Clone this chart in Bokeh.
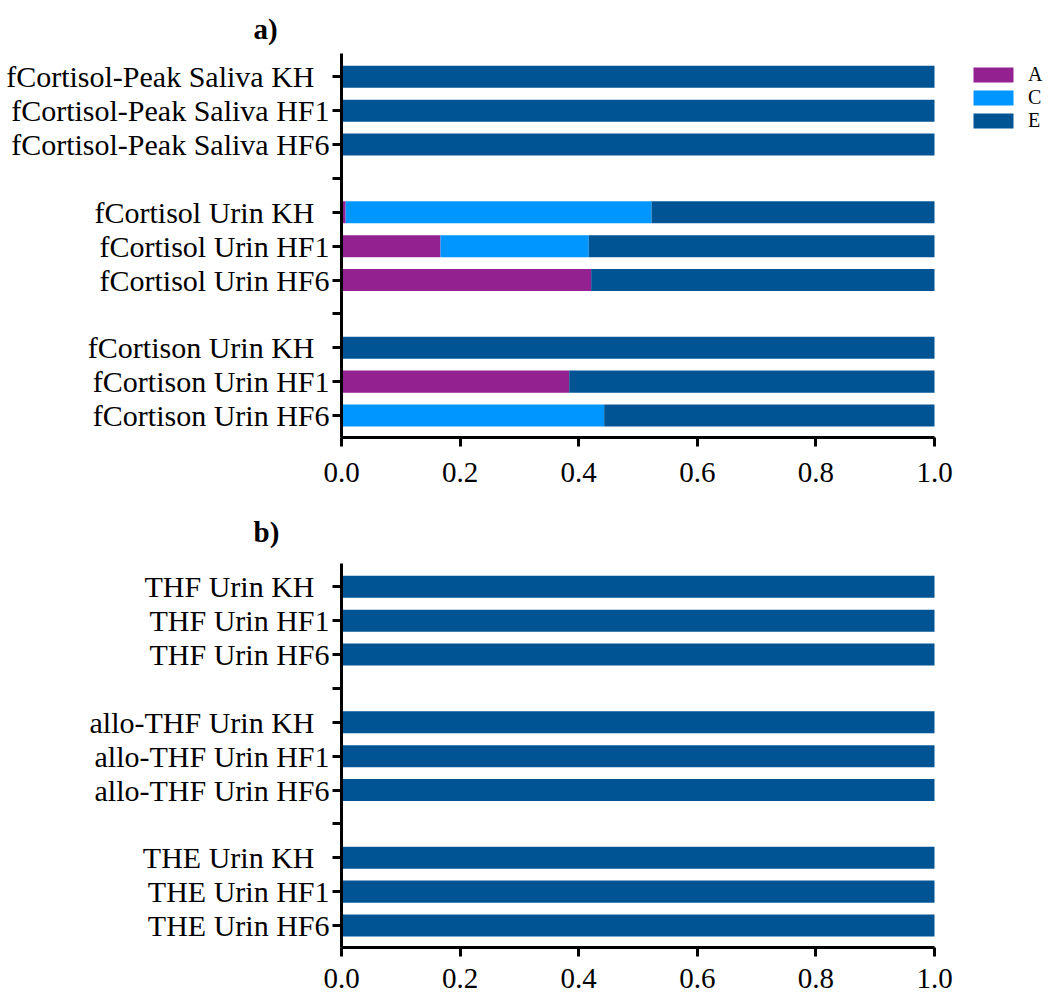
from bokeh.plotting import figure
from bokeh.models import (ColumnDataSource, Range1d, FixedTicker, Legend,
                          LegendItem, PrintfTickFormatter)
from bokeh.layouts import column
from bokeh.embed import file_html
from bokeh.resources import INLINE

FONT = "Liberation Serif"
NB = "\u00a0\u00a0"

# Panel a) categories (top to bottom) and stacked shares
cats_a = [
    "fCortisol-Peak Saliva KH" + NB, "fCortisol-Peak Saliva HF1", "fCortisol-Peak Saliva HF6",
    "fCortisol Urin KH" + NB, "fCortisol Urin HF1", "fCortisol Urin HF6",
    "fCortison Urin KH" + NB, "fCortison Urin HF1", "fCortison Urin HF6",
]
share_A_a = [0, 0, 0, 0.007, 0.167, 0.421, 0, 0.384, 0]
share_C_a = [0, 0, 0, 0.516, 0.250, 0, 0, 0, 0.443]
share_E_a = [1, 1, 1, 0.477, 0.583, 0.579, 1, 0.616, 0.557]

# Panel b) categories and stacked shares
cats_b = [
    "THF Urin KH" + NB, "THF Urin HF1", "THF Urin HF6",
    "allo-THF Urin KH" + NB, "allo-THF Urin HF1", "allo-THF Urin HF6",
    "THE Urin KH" + NB, "THE Urin HF1", "THE Urin HF6",
]
share_A_b = [0, 0, 0, 0, 0, 0, 0, 0, 0]
share_C_b = [0, 0, 0, 0, 0, 0, 0, 0, 0]
share_E_b = [1, 1, 1, 1, 1, 1, 1, 1, 1]

series = ["A", "C", "E"]
colors = ["#93218F", "#0096FF", "#015493"]
x_ticks = [0.0, 0.2, 0.4, 0.6, 0.8, 1.0]

LEFT = 341          # space for the category labels
AXIS_PX = 593       # pixel length of the 0..1 share axis
FIG_W = 1048
X_END = (FIG_W - LEFT) / AXIS_PX   # frame runs to the right edge so the legend fits inside


def make_panel(cats, a, c, e, tag, height, top_border, bottom_border,
               x_standoff, title_standoff, with_legend):
    # groups of three rows separated by an empty row
    pos = [i + i // 3 for i in range(len(cats))]
    src = ColumnDataSource(dict(pos=pos, A=a, C=c, E=e))

    p = figure(width=FIG_W, height=height, output_backend="svg", toolbar_location=None,
               x_range=Range1d(0, X_END), y_range=Range1d(10.65, -0.69),
               min_border_left=LEFT, min_border_right=0,
               min_border_top=top_border, min_border_bottom=bottom_border)
    p.outline_line_color = None
    p.xgrid.visible = False
    p.ygrid.visible = False
    p.background_fill_color = "white"
    p.border_fill_color = "white"

    # panel tag as a left-aligned title shifted over the category labels
    p.title.text = tag
    p.title.align = "left"
    p.title.offset = -88
    p.title.text_font = FONT
    p.title.text_font_size = "29px"
    p.title.text_font_style = "bold"
    p.title.text_color = "black"
    p.title.standoff = title_standoff

    rends = p.hbar_stack(series, y="pos", height=0.65, color=colors,
                         line_color=None, source=src)

    # x axis, drawn only over the 0..1 share range
    xa = p.xaxis[0]
    xa.bounds = (0, 1)
    xa.ticker = FixedTicker(ticks=x_ticks)
    xa.formatter = PrintfTickFormatter(format="%.1f")
    xa.minor_tick_line_color = None
    xa.axis_line_width = 3
    xa.major_tick_line_width = 3
    xa.major_tick_out = 9
    xa.major_tick_in = 0
    xa.axis_line_color = "black"
    xa.major_tick_line_color = "black"
    xa.major_label_text_font = FONT
    xa.major_label_text_font_size = "29px"
    xa.major_label_text_color = "black"
    xa.major_label_standoff = x_standoff

    # y axis with labels per row, blank separators between groups
    ya = p.yaxis[0]
    ya.ticker = FixedTicker(ticks=list(range(11)))
    overrides = {t: "" for t in range(11)}
    for pp, lab in zip(pos, cats):
        overrides[pp] = lab
    ya.major_label_overrides = overrides
    ya.minor_tick_line_color = None
    ya.axis_line_width = 3
    ya.major_tick_line_width = 3
    ya.major_tick_out = 9
    ya.major_tick_in = 0
    ya.axis_line_color = "black"
    ya.major_tick_line_color = "black"
    ya.major_label_text_font = FONT
    ya.major_label_text_font_size = "30px"
    ya.major_label_text_color = "black"
    ya.major_label_standoff = 3

    if with_legend:
        items = [LegendItem(label=s, renderers=[r]) for s, r in zip(series, rends)]
        leg = Legend(items=items, location=(627, 305), padding=0, margin=0, spacing=0,
                     glyph_width=50, glyph_height=19, label_height=22, label_standoff=10,
                     label_text_font=FONT, label_text_font_size="20px",
                     label_text_color="black", border_line_color=None,
                     background_fill_alpha=0)
        p.add_layout(leg)
    return p


pa = make_panel(cats_a, share_A_a, share_C_a, share_E_a, "a)", 495, 53, 58, 16, 18, True)
pb = make_panel(cats_b, share_A_b, share_C_b, share_E_b, "b)", 499, 68, 47, 12, 31, False)

layout = column(pa, pb, spacing=0)
open("out.html", "w").write(file_html(layout, INLINE))
